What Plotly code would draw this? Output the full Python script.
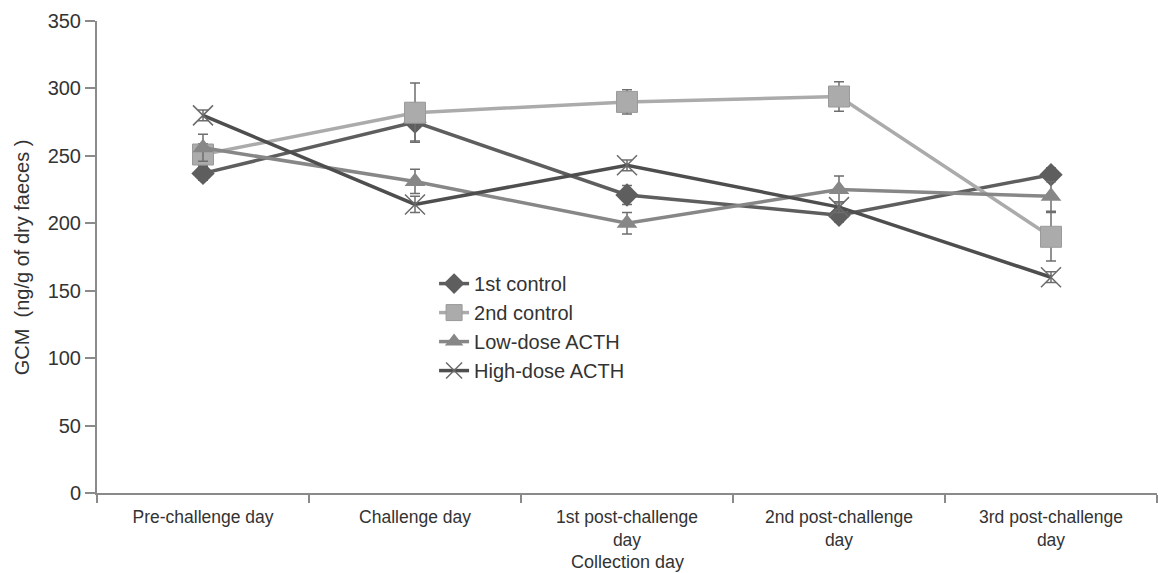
import plotly.graph_objects as go

categories = ["Pre-challenge day", "Challenge day", "1st post-challenge<br>day",
              "2nd post-challenge<br>day", "3rd post-challenge<br>day"]

first_control = [237, 275, 221, 206, 236]
first_control_err = [5, 14, 7, 5, 5]
second_control = [251, 282, 290, 294, 190]
second_control_err = [8, 22, 9, 11, 18]
low_dose = [256, 231, 200, 225, 220]
low_dose_err = [10, 9, 8, 10, 11]
high_dose = [280, 214, 243, 212, 160]
high_dose_err = [4, 6, 4, 4, 4]

y_ticks = [0, 50, 100, 150, 200, 250, 300, 350]

FONT = "Liberation Sans, Arial, sans-serif"
AX = "#8a8a8a"

series = [
    ("1st control", first_control, first_control_err, "#5e5e5e",
     dict(symbol="diamond", size=18, color="#5e5e5e")),
    ("2nd control", second_control, second_control_err, "#ababab",
     dict(symbol="square", size=21, color="#ababab", line=dict(color="#9a9a9a", width=1))),
    ("Low-dose ACTH", low_dose, low_dose_err, "#878787",
     dict(symbol="triangle-up", size=18, color="#878787")),
    ("High-dose ACTH", high_dose, high_dose_err, "#4e4e4e",
     dict(symbol="x-thin", size=20, color="#6a6a6a", line=dict(color="#6a6a6a", width=1.5))),
]

fig = go.Figure()
for name, vals, err, col, mk in series:
    fig.add_trace(go.Scatter(
        x=categories, y=vals, name=name, mode="lines+markers",
        line=dict(color=col, width=3.5),
        marker=mk,
        error_y=dict(type="data", array=err, visible=True, color="#6e6e6e",
                     thickness=1.5, width=5),
    ))

fig.update_layout(
    width=1158, height=573,
    margin=dict(l=97, r=1, t=21, b=80),
    paper_bgcolor="white", plot_bgcolor="white",
    font=dict(family=FONT, size=20, color="#333333"),
    showlegend=True,
    legend=dict(x=0.318, y=0.485, xanchor="left", yanchor="top",
                bgcolor="rgba(0,0,0,0)", font=dict(size=20, color="#333333"),
                itemwidth=30, tracegroupgap=0),
    xaxis=dict(
        type="category", range=[-0.5, 4.5], tickson="boundaries",
        showline=True, linecolor=AX, linewidth=2,
        ticks="outside", ticklen=8, tickcolor=AX, tickwidth=1.5,
        showgrid=False, zeroline=False, ticklabelstandoff=7,
        tickfont=dict(size=17.5, color="#333333"),
    ),
    yaxis=dict(
        range=[0, 350], tickvals=y_ticks,
        showline=True, linecolor=AX, linewidth=2,
        ticks="outside", ticklen=10, tickcolor=AX, tickwidth=1.5,
        showgrid=False, zeroline=False,
        tickfont=dict(size=20, color="#333333"),
    ),
    shapes=[
        dict(type="line", xref="paper", x0=0, x1=0, yref="y", ysizemode="pixel",
             yanchor=0, y0=0, y1=-7, line=dict(color=AX, width=2)),
        dict(type="line", yref="paper", y0=0, y1=0, xref="paper", xsizemode="pixel",
             xanchor=0, x0=-10, x1=0, line=dict(color=AX, width=2)),
    ],
    annotations=[
        dict(text="Collection day", x=0.5, xref="paper", y=-0.147, yref="paper",
             showarrow=False, xanchor="center", yanchor="middle",
             font=dict(size=18, color="#333333")),
        dict(text="GCM  (ng/g of dry faeces )", x=-0.0705, xref="paper", y=0.5, yref="paper",
             showarrow=False, xanchor="center", yanchor="middle", textangle=-90,
             font=dict(size=20, color="#333333")),
    ],
)

fig.write_html("out.html", config={"displayModeBar": False},
               post_script="document.body.style.margin='0';document.body.style.padding='0';")
